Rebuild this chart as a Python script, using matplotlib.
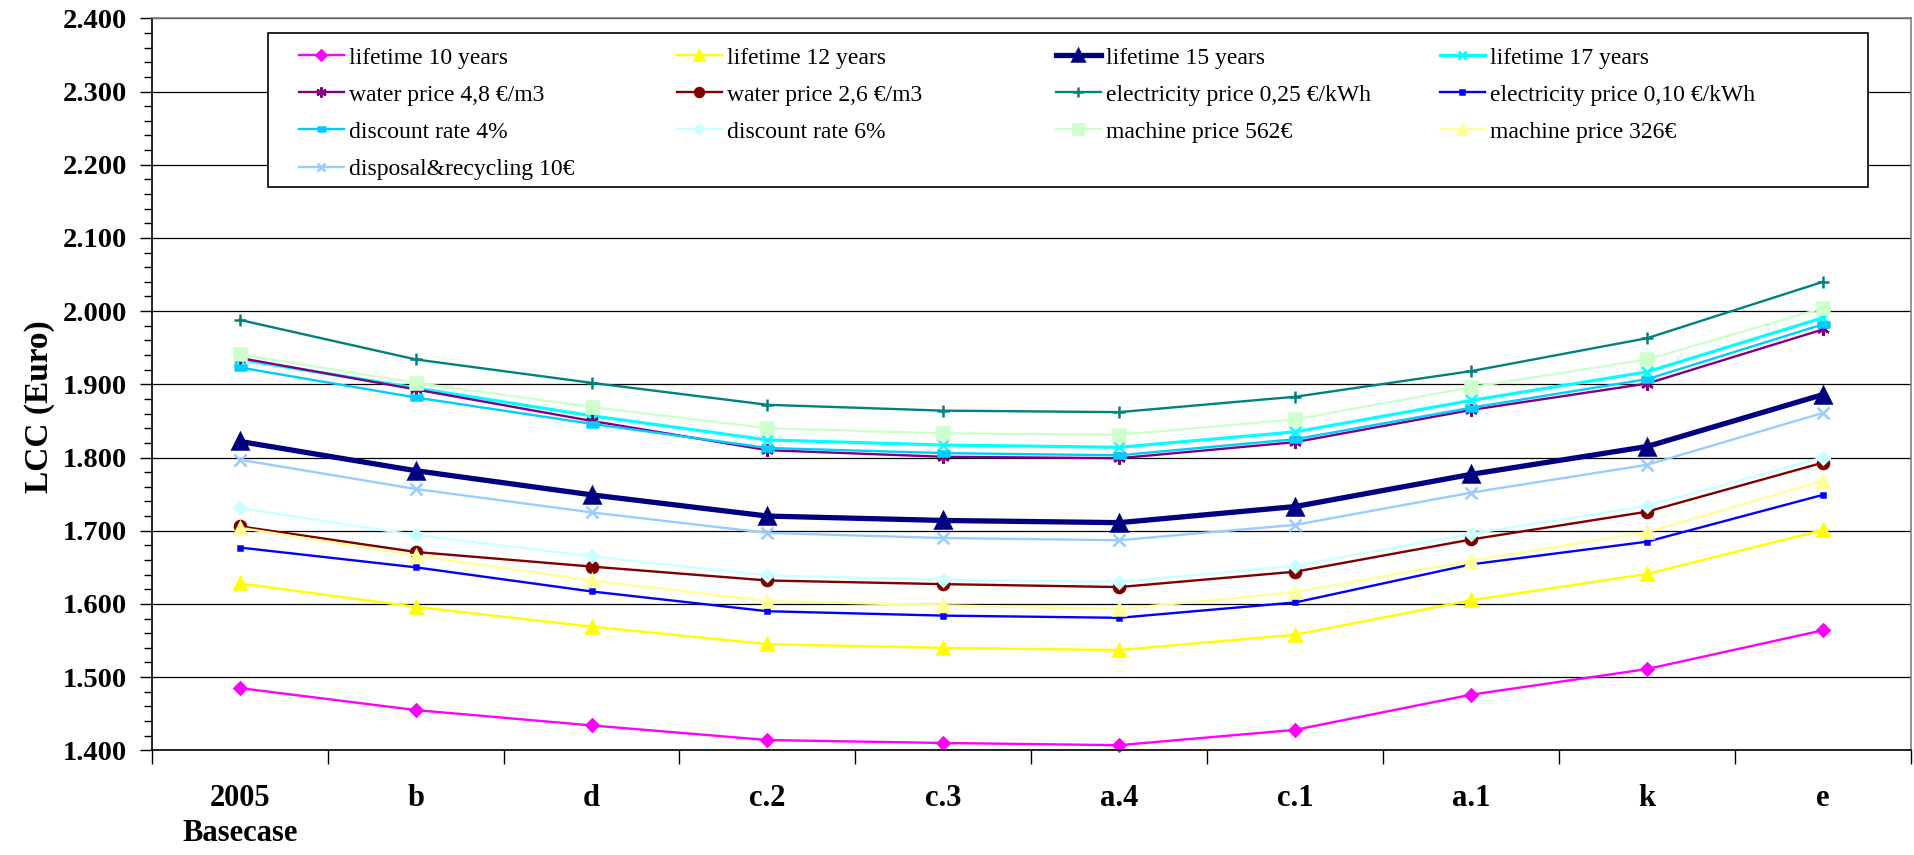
"""LCC sensitivity chart: life cycle cost per design option under varied assumptions."""
import matplotlib
matplotlib.use('Agg')
import matplotlib.pyplot as plt
from matplotlib.patches import Rectangle
from matplotlib.ticker import MultipleLocator, FuncFormatter

plt.rcParams['font.family'] = ['Liberation Serif', 'DejaVu Serif']

categories = ['2005\nBasecase', 'b', 'd', 'c.2', 'c.3', 'a.4', 'c.1', 'a.1', 'k', 'e']

lifetime_10 = [1.485, 1.455, 1.434, 1.414, 1.410, 1.407, 1.428, 1.476, 1.511, 1.564]
lifetime_12 = [1.628, 1.596, 1.569, 1.545, 1.540, 1.537, 1.558, 1.605, 1.641, 1.701]
lifetime_15 = [1.822, 1.782, 1.749, 1.720, 1.714, 1.711, 1.733, 1.777, 1.815, 1.886]
lifetime_17 = [1.934, 1.895, 1.857, 1.824, 1.817, 1.814, 1.835, 1.878, 1.917, 1.991]
water_48 = [1.936, 1.893, 1.850, 1.810, 1.801, 1.799, 1.821, 1.865, 1.901, 1.975]
water_26 = [1.706, 1.671, 1.651, 1.632, 1.627, 1.623, 1.644, 1.688, 1.726, 1.793]
elec_025 = [1.988, 1.934, 1.902, 1.872, 1.864, 1.862, 1.883, 1.918, 1.963, 2.040]
elec_010 = [1.677, 1.650, 1.617, 1.590, 1.584, 1.581, 1.602, 1.654, 1.685, 1.749]
discount_4 = [1.923, 1.882, 1.846, 1.813, 1.806, 1.803, 1.825, 1.868, 1.907, 1.982]
discount_6 = [1.731, 1.694, 1.665, 1.639, 1.633, 1.630, 1.652, 1.696, 1.734, 1.800]
machine_562 = [1.941, 1.902, 1.869, 1.840, 1.833, 1.831, 1.852, 1.896, 1.934, 2.004]
machine_326 = [1.704, 1.666, 1.632, 1.604, 1.598, 1.593, 1.616, 1.659, 1.698, 1.768]
disposal_10 = [1.797, 1.757, 1.725, 1.697, 1.690, 1.687, 1.708, 1.752, 1.790, 1.861]

dash = [(-1, -0.45), (1, -0.45), (1, 0.45), (-1, 0.45)]

# (label, values, colour, marker, markersize, linewidth)
SERIES = [
    ('lifetime 10 years', lifetime_10, '#FF00FF', 'D', 6.5, 1.7),
    ('lifetime 12 years', lifetime_12, '#FFFF00', '^', 9, 1.7),
    ('lifetime 15 years', lifetime_15, '#000080', '^', 11, 3.8),
    ('lifetime 17 years', lifetime_17, '#00FFFF', 'x', 8, 2.3),
    ('water price 4,8 €/m3', water_48, '#800080', (6, 2, 0), 9, 1.7),
    ('water price 2,6 €/m3', water_26, '#800000', 'o', 8, 1.7),
    ('electricity price 0,25 €/kWh', elec_025, '#008080', '+', 9, 1.7),
    ('electricity price 0,10 €/kWh', elec_010, '#0000FF', 's', 3.5, 1.7),
    ('discount rate 4%', discount_4, '#00CCFF', dash, 8, 1.7),
    ('discount rate 6%', discount_6, '#CCFFFF', 'D', 6.5, 1.7),
    ('machine price 562€', machine_562, '#CCFFCC', 's', 8.5, 1.7),
    ('machine price 326€', machine_326, '#FFFF99', '^', 9, 1.7),
    ('disposal&recycling 10€', disposal_10, '#99CCFF', 'x', 8, 1.7),
]

fig = plt.figure(figsize=(19.14, 8.55), dpi=100)
ax = fig.add_axes([151.7 / 1914, 1 - 750.3 / 855, (1911 - 151.7) / 1914, (750.3 - 18.3) / 855])

xs = list(range(len(categories)))
handles = []
for label, ys, color, marker, ms, lw in SERIES:
    h, = ax.plot(xs, ys, color=color, lw=lw, marker=marker, ms=ms,
                 mfc=color, mec=color, mew=1.8, label=label, clip_on=False)
    handles.append(h)

ax.set_xlim(-0.5, len(categories) - 0.5)
ax.set_ylim(1.4, 2.4)

ax.yaxis.set_major_locator(MultipleLocator(0.1))
ax.yaxis.set_minor_locator(MultipleLocator(0.02))
ax.yaxis.set_major_formatter(FuncFormatter(lambda v, _: '%.3f' % v))
ax.grid(axis='y', which='major', color='black', lw=0.9)
ax.set_axisbelow(True)

ax.set_xticks(xs)
ax.set_xticklabels(categories, fontsize=22, fontweight='bold', linespacing=1.3)
ax.set_xticks([x - 0.5 for x in range(len(categories) + 1)], minor=True)
ax.tick_params(axis='x', which='major', length=0, pad=24)
ax.tick_params(axis='x', which='minor', length=10, width=1, direction='out')
ax.tick_params(axis='y', which='major', length=9, width=1, pad=9, labelsize=20.5)
ax.tick_params(axis='y', which='minor', length=6, width=1)
for t in ax.get_yticklabels():
    t.set_fontweight('bold')

for side in ('top', 'right'):
    ax.spines[side].set_color('#808080')
for side in ('left', 'bottom'):
    ax.spines[side].set_color('black')
for s in ax.spines.values():
    s.set_linewidth(1.2)

ax.set_ylabel('LCC (Euro)', fontsize=24, fontweight='bold')
ax.yaxis.set_label_coords(-0.055, 0.47)

# Excel-style legend: framed box with four equal-width columns
fig.patches.append(Rectangle((268 / 1914, 1 - 187 / 855), (1868 - 268) / 1914, (187 - 33) / 855,
                             transform=fig.transFigure, facecolor='white', edgecolor='black',
                             lw=1.2, zorder=1))
col_x = [299, 677, 1056, 1440]
for c, x0 in enumerate(col_x):
    col = [handles[i] for i in range(c, len(handles), 4)]
    fig.legend(col, [h.get_label() for h in col], loc='upper left',
               bbox_to_anchor=(x0 / 1914, 1 - 47 / 855), bbox_transform=fig.transFigure,
               frameon=False, borderpad=0, borderaxespad=0, fontsize=17,
               handlelength=1.9, handletextpad=0.2, labelspacing=0.66, markerscale=0.8)

fig.savefig('out.png', dpi=100)
